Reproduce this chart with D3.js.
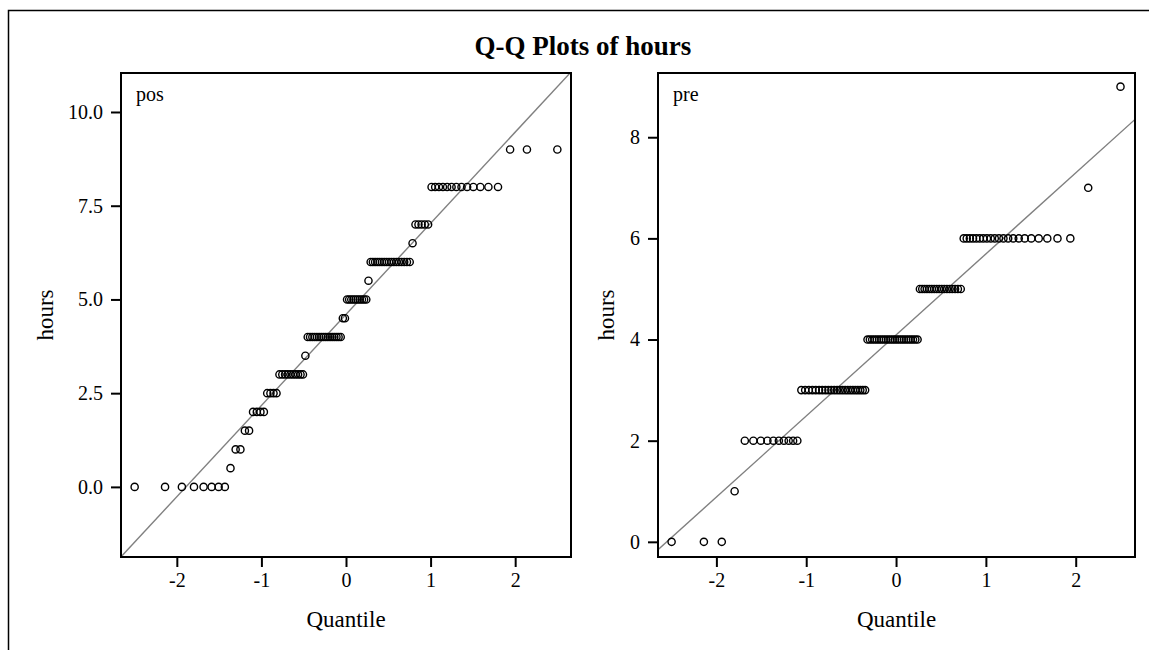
<!DOCTYPE html>
<html>
<head>
<meta charset="utf-8">
<script src="https://cdn.jsdelivr.net/npm/d3@7.9.0/dist/d3.min.js"></script>
<style>
  body { margin: 0; background: #fff; }
  svg text { font-family: "Liberation Serif", "Times New Roman", serif; fill: #000; }
</style>
</head>
<body>
<svg id="chart" width="1149" height="650"></svg>
<script>
// hours values and how many subjects had each value (n = 100 per group)
const posValues = [0, 0.5, 1, 1.5, 2, 2.5, 3, 3.5, 4, 4.5, 5, 5.5, 6, 6.5, 7, 8, 9];
const posCounts = [8, 1, 2, 2, 4, 4, 10, 1, 16, 2, 10, 1, 17, 1, 5, 13, 3];
const preValues = [0, 1, 2, 3, 4, 5, 6, 7, 9];
const preCounts = [3, 1, 10, 23, 23, 17, 21, 1, 1];

// axis settings
const posXDomain = [-2.66, 2.66];
const posYDomain = [-1.87, 11.04];
const preXDomain = [-2.65, 2.66];
const preYDomain = [-0.30, 9.27];
const quantileTicks = [-2, -1, 0, 1, 2];
const posYTicks = [0, 2.5, 5, 7.5, 10];
const preYTicks = [0, 2, 4, 6, 8];

const svg = d3.select("#chart");

// outer frame (runs off the right/bottom edge like the original)
svg.append("rect")
  .attr("x", 8.5).attr("y", 10.5)
  .attr("width", 1300).attr("height", 800)
  .attr("fill", "none").attr("stroke", "#000").attr("stroke-width", 1.5);

svg.append("text")
  .attr("x", 583).attr("y", 55)
  .attr("text-anchor", "middle")
  .style("font-size", "27px").style("font-weight", "bold")
  .text("Q-Q Plots of hours");

// inverse normal cdf (Acklam's approximation)
function qnorm(p) {
  const a = [-3.969683028665376e+01, 2.209460984245205e+02, -2.759285104469687e+02, 1.383577518672690e+02, -3.066479806614716e+01, 2.506628277459239e+00];
  const b = [-5.447609879822406e+01, 1.615858368580409e+02, -1.556989798598866e+02, 6.680131188771972e+01, -1.328068155288572e+01];
  const c = [-7.784894002430293e-03, -3.223964580411365e-01, -2.400758277161838e+00, -2.549732539343734e+00, 4.374664141464968e+00, 2.938163982698783e+00];
  const d = [7.784695709041462e-03, 3.224671290700398e-01, 2.445134137142996e+00, 3.754408661907416e+00];
  const pLow = 0.02425, pHigh = 1 - pLow;
  let q, r;
  if (p < pLow) {
    q = Math.sqrt(-2 * Math.log(p));
    return (((((c[0]*q+c[1])*q+c[2])*q+c[3])*q+c[4])*q+c[5]) / ((((d[0]*q+d[1])*q+d[2])*q+d[3])*q+1);
  }
  if (p <= pHigh) {
    q = p - 0.5; r = q * q;
    return (((((a[0]*r+a[1])*r+a[2])*r+a[3])*r+a[4])*r+a[5])*q / (((((b[0]*r+b[1])*r+b[2])*r+b[3])*r+b[4])*r+1);
  }
  q = Math.sqrt(-2 * Math.log(1 - p));
  return -(((((c[0]*q+c[1])*q+c[2])*q+c[3])*q+c[4])*q+c[5]) / ((((d[0]*q+d[1])*q+d[2])*q+d[3])*q+1);
}

function drawPanel(opt) {
  const { left, top, right, bottom, values, counts, xDomain, yDomain, yTicks, yFormat, label, id } = opt;

  // expand to sorted sample, then Blom plotting positions
  const sample = [];
  values.forEach((v, i) => { for (let k = 0; k < counts[i]; k++) sample.push(v); });
  const n = sample.length;
  const pts = sample.map((v, i) => ({ q: qnorm((i + 1 - 0.375) / (n + 0.25)), v }));
  const mu = d3.mean(sample);
  const sigma = d3.deviation(sample);

  const x = d3.scaleLinear().domain(xDomain).range([left, right]);
  const y = d3.scaleLinear().domain(yDomain).range([bottom, top]);

  svg.append("clipPath").attr("id", id)
    .append("rect").attr("x", left).attr("y", top)
    .attr("width", right - left).attr("height", bottom - top);

  // reference line mu + sigma * q
  svg.append("line")
    .attr("clip-path", `url(#${id})`)
    .attr("x1", x(xDomain[0])).attr("y1", y(mu + sigma * xDomain[0]))
    .attr("x2", x(xDomain[1])).attr("y2", y(mu + sigma * xDomain[1]))
    .attr("stroke", "#808080").attr("stroke-width", 1.4);

  svg.append("g").selectAll("circle")
    .data(pts)
    .enter().append("circle")
    .attr("cx", d => x(d.q))
    .attr("cy", d => y(d.v))
    .attr("r", 3.6)
    .attr("fill", "none")
    .attr("stroke", "#000")
    .attr("stroke-width", 1.4);

  // axes
  const xAxis = svg.append("g")
    .attr("transform", `translate(0,${bottom})`)
    .call(d3.axisBottom(x).tickValues(quantileTicks).tickFormat(d3.format("d")).tickSize(10).tickPadding(6));
  const yAxis = svg.append("g")
    .attr("transform", `translate(${left},0)`)
    .call(d3.axisLeft(y).tickValues(yTicks).tickFormat(d3.format(yFormat)).tickSize(10).tickPadding(8));
  [xAxis, yAxis].forEach(ax => {
    ax.select(".domain").remove();
    ax.selectAll(".tick line").attr("stroke", "#000").attr("stroke-width", 2);
    ax.selectAll(".tick text").style("font-size", "20px").style("font-family", "Liberation Serif");
  });
  xAxis.selectAll(".tick text").text(d => d < 0 ? "-" + Math.abs(d) : d);

  // panel frame
  svg.append("rect")
    .attr("x", left).attr("y", top)
    .attr("width", right - left).attr("height", bottom - top)
    .attr("fill", "none").attr("stroke", "#000").attr("stroke-width", 2);

  svg.append("text")
    .attr("x", left + 15).attr("y", top + 28)
    .style("font-size", "20px")
    .text(label);

  svg.append("text")
    .attr("x", (left + right) / 2).attr("y", bottom + 70)
    .attr("text-anchor", "middle")
    .style("font-size", "23px")
    .text("Quantile");

  svg.append("text")
    .attr("transform", `translate(${opt.yLabelX},${(top + bottom) / 2}) rotate(-90)`)
    .attr("text-anchor", "middle")
    .style("font-size", "23px")
    .text("hours");
}

drawPanel({
  id: "clipPos", left: 121, top: 73, right: 571, bottom: 557,
  values: posValues, counts: posCounts,
  xDomain: posXDomain, yDomain: posYDomain, yTicks: posYTicks, yFormat: ".1f",
  label: "pos", yLabelX: 53
});
drawPanel({
  id: "clipPre", left: 658, top: 73, right: 1135, bottom: 557,
  values: preValues, counts: preCounts,
  xDomain: preXDomain, yDomain: preYDomain, yTicks: preYTicks, yFormat: "d",
  label: "pre", yLabelX: 614
});
</script>
</body>
</html>
